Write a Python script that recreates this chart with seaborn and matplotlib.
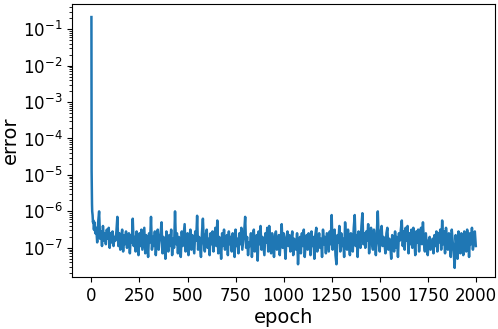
import numpy as np
import pandas as pd
import matplotlib
matplotlib.use("Agg")
import matplotlib.pyplot as plt
import seaborn as sns

# first few epochs (the fast drop)
early_epochs = [0, 1, 2, 3, 4, 6, 8, 10, 13, 16, 20]
early_log_error = [-0.67, -4.9, -5.5, -5.8, -6.0, -6.1, -6.3, -6.25, -6.5, -6.3, -6.6]

# rest of the run, every 5 epochs from 25 to 2000 (log10 of the error)
later_epochs = list(range(25, 2001, 5))
later_log_error = [
    -6.45, -6.85, -6.30, -6.00, -6.75, -6.55, -6.95, -6.40, -6.80, -6.60, -6.90, -6.50, -6.75, -6.45, -7.00, -6.60, -6.85, -6.55, -6.95, -6.70,
    -6.80, -6.55, -6.15, -6.95, -6.60, -7.05, -6.70, -6.50, -7.10, -6.65, -6.90, -6.55, -7.00, -6.75, -6.60, -7.15, -6.65, -6.85, -6.20, -6.95,
    -6.70, -7.10, -6.55, -6.85, -7.20, -6.60, -6.95, -6.50, -7.05, -6.75, -6.45, -7.15, -6.65, -6.90, -7.25, -6.60, -6.85, -6.15, -7.05, -6.70,
    -6.95, -6.55, -7.20, -6.75, -6.50, -7.05, -6.80, -6.60, -6.30, -7.15, -6.70, -6.90, -7.30, -6.55, -6.85, -7.10, -6.65, -6.95, -6.50, -7.20,
    -6.75, -7.00, -6.00, -6.90, -6.60, -7.15, -6.70, -6.85, -7.25, -6.55, -6.95, -6.65, -6.35, -7.10, -6.80, -6.60, -7.20, -6.75, -6.50, -7.05,
    -6.65, -6.90, -7.15, -6.55, -6.80, -6.12, -7.05, -6.70, -6.95, -7.25, -6.60, -6.20, -6.85, -7.10, -6.65, -6.50, -7.00, -6.75, -7.20, -6.60,
    -6.90, -6.55, -7.10, -6.75, -6.45, -6.95, -6.25, -7.15, -6.70, -6.85, -7.30, -6.60, -6.95, -6.50, -7.05, -6.80, -6.65, -7.20, -6.55, -6.90,
    -6.70, -7.10, -6.60, -6.85, -7.25, -6.50, -6.95, -6.75, -7.15, -6.60, -6.90, -6.45, -7.05, -6.80, -6.55, -6.15, -7.00, -6.70, -7.20, -6.85,
    -6.95, -6.60, -7.25, -6.75, -6.50, -7.10, -6.85, -6.65, -7.35, -6.55, -6.90, -6.40, -7.05, -6.70, -6.95, -7.20, -6.60, -6.85, -6.45, -7.10,
    -6.40, -6.90, -7.15, -6.60, -6.80, -7.25, -6.70, -6.55, -7.05, -6.85, -6.65, -7.20, -6.75, -6.35, -7.00, -6.60, -6.90, -7.30, -6.70, -6.55,
    -6.95, -6.65, -7.10, -6.80, -6.55, -7.20, -6.75, -6.90, -7.05, -6.60, -7.45, -6.85, -6.70, -7.15, -6.60, -6.95, -6.50, -7.25, -6.80, -6.65,
    -7.05, -6.60, -6.85, -7.20, -6.55, -6.95, -6.70, -7.30, -6.65, -6.45, -7.10, -6.80, -6.60, -7.00, -6.75, -7.25, -6.50, -6.90, -6.70, -7.15,
    -6.60, -6.85, -7.10, -6.55, -6.90, -6.10, -7.05, -6.70, -6.50, -7.20, -7.45, -6.65, -6.85, -6.40, -7.10, -6.60, -6.95, -6.75, -7.25, -6.30,
    -6.80, -7.05, -6.50, -6.90, -7.20, -6.60, -6.75, -7.10, -6.45, -6.10, -6.95, -6.65, -7.25, -6.55, -6.85, -7.00, -6.40, -6.05, -6.90, -6.60,
    -7.00, -6.55, -6.80, -6.35, -7.15, -6.65, -6.45, -6.90, -7.05, -6.50, -6.75, -7.20, -6.60, -6.00, -6.85, -7.10, -6.55, -6.40, -6.95, -6.70,
    -6.90, -7.15, -6.60, -6.45, -7.05, -6.75, -6.95, -7.30, -6.65, -6.85, -7.10, -6.55, -7.00, -6.70, -7.25, -6.60, -6.80, -6.50, -6.25, -6.95,
    -6.55, -7.05, -6.45, -6.80, -6.40, -7.15, -6.60, -6.90, -6.50, -7.00, -6.45, -6.75, -7.20, -6.55, -6.85, -6.50, -7.10, -6.65, -6.45, -6.90,
    -6.30, -6.85, -7.10, -6.60, -6.95, -7.20, -6.80, -6.70, -7.05, -6.90, -6.75, -7.15, -6.65, -6.95, -6.55, -7.10, -6.60, -6.85, -6.50, -7.05,
    -6.25, -6.90, -6.55, -7.15, -6.45, -6.80, -7.05, -6.60, -6.95, -7.25, -6.50, -6.85, -7.10, -7.55, -6.65, -6.90, -7.30, -6.55, -6.80, -7.15,
    -6.60, -6.95, -7.20, -6.55, -6.85, -7.10, -6.50, -6.75, -7.25, -6.60, -6.90, -6.45, -7.05, -6.70, -6.55, -6.95,
]


def build_frame():
    df = pd.DataFrame(
        {
            "epoch": early_epochs + later_epochs,
            "log_error": early_log_error + later_log_error,
        }
    )
    df["error"] = 10 ** df["log_error"]
    return df


def plot_error(df):
    fig, ax = plt.subplots(figsize=(4.98, 3.29), dpi=100)
    fig.subplots_adjust(left=0.145, right=0.994, bottom=0.158, top=0.988)

    sns.lineplot(
        data=df, x="epoch", y="error", ax=ax,
        color="#1f77b4", linewidth=1.8, sort=False, estimator=None,
    )
    ax.set_yscale("log")
    ax.set_ylim(10 ** -7.8, 10 ** -0.31)
    ax.set_xticks([0, 250, 500, 750, 1000, 1250, 1500, 1750, 2000])
    ax.set_xlabel("epoch", fontsize=14, labelpad=2)
    ax.set_ylabel("error", fontsize=14, labelpad=2)
    ax.tick_params(axis="both", labelsize=12)

    plt.savefig("out.png", dpi=100)


def main():
    df = build_frame()
    plot_error(df)


if __name__ == "__main__":
    main()
